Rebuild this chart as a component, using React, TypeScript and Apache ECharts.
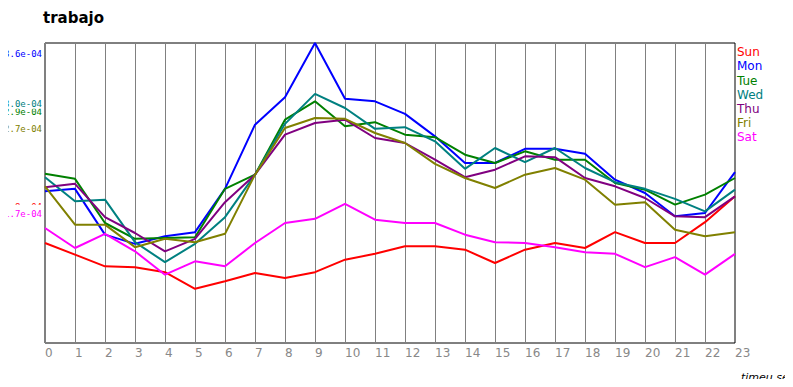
import React, { useEffect, useRef } from "react";
import * as echarts from "echarts";

const HOURS = ["0","1","2","3","4","5","6","7","8","9","10","11","12","13","14","15","16","17","18","19","20","21","22","23"];
const DAYS = ["Sun", "Mon", "Tue", "Wed", "Thu", "Fri", "Sat"];
const COLORS = ["#ff0000", "#0000ff", "#008000", "#008080", "#800080", "#808000", "#ff00ff"];
const UNIT = 1e-4;

const sun = [1.20,1.06,0.92,0.91,0.85,0.65,0.74,0.84,0.78,0.85,1.00,1.07,1.16,1.16,1.12,0.96,1.12,1.20,1.14,1.33,1.20,1.20,1.45,1.76];
const mon = [1.82,1.85,1.30,1.19,1.28,1.33,1.85,2.62,2.95,3.60,2.93,2.90,2.75,2.48,2.16,2.16,2.33,2.33,2.27,1.96,1.80,1.52,1.56,2.05];
const tue = [2.03,1.97,1.44,1.25,1.26,1.27,1.85,2.02,2.68,2.90,2.60,2.65,2.50,2.47,2.26,2.16,2.30,2.20,2.20,1.92,1.84,1.66,1.78,1.98];
const wed = [1.99,1.70,1.72,1.21,0.97,1.19,1.51,2.02,2.63,2.99,2.82,2.57,2.59,2.42,2.09,2.34,2.17,2.34,2.10,1.93,1.85,1.73,1.58,1.84];
const thu = [1.87,1.91,1.51,1.32,1.10,1.25,1.69,2.02,2.50,2.64,2.68,2.46,2.40,2.20,1.99,2.08,2.24,2.23,1.98,1.88,1.74,1.52,1.51,1.76];
const fri = [1.88,1.42,1.42,1.15,1.25,1.21,1.31,2.02,2.58,2.70,2.69,2.52,2.40,2.15,1.98,1.86,2.02,2.10,1.96,1.66,1.69,1.36,1.28,1.33];
const sat = [1.38,1.14,1.31,1.10,0.82,0.98,0.92,1.20,1.44,1.49,1.67,1.48,1.44,1.44,1.30,1.21,1.20,1.15,1.09,1.07,0.91,1.03,0.82,1.07];

const SERIES_VALUES = [sun, mon, tue, wed, thu, fri, sat];

function fmtExp(v: number): string {
  const s = Number(v).toExponential(1);
  return s.replace(/e([+-])(\d)$/, (_m, sign, d) => "e" + sign + "0" + d);
}

export default function App() {
  const ref = useRef<HTMLDivElement>(null);
  useEffect(() => {
    if (!ref.current) return;
    const chart = echarts.init(ref.current, null, { renderer: "svg" });
    const seriesVals = SERIES_VALUES.map((arr) => arr.map((v) => v * UNIT));
    const option: any = {
      animation: false,
      backgroundColor: "#fff",
      title: {
        text: "trabajo",
        left: 43,
        top: 10,
        padding: 0,
        textStyle: { fontFamily: "DejaVu Sans", fontSize: 15, fontWeight: "bold", color: "#000" },
      },
      legend: {
        orient: "vertical",
        left: 732,
        top: 45,
        padding: 0,
        itemWidth: 0,
        itemHeight: 0,
        itemGap: 0,
        icon: "rect",
        selectedMode: false,
        data: DAYS.map((d, i) => ({ name: d, textStyle: { color: COLORS[i] } })),
        textStyle: { fontFamily: "DejaVu Sans", fontSize: 12, lineHeight: 14.2 },
      },
      grid: {
        left: 45,
        right: 58,
        top: 43,
        bottom: 44,
        show: true,
        borderColor: "#000",
        borderWidth: 1,
        backgroundColor: "transparent",
      },
      xAxis: {
        type: "category",
        data: HOURS,
        boundaryGap: false,
        axisLine: { show: false },
        axisTick: { show: false },
        axisLabel: {
          interval: 0,
          color: "#888",
          fontSize: 12,
          fontFamily: "DejaVu Sans",
          align: "left",
          margin: 4,
        },
        splitLine: { show: true, interval: 0, lineStyle: { color: "#808080", width: 1 } },
      },
      yAxis: { type: "value", min: 0, max: "dataMax", show: false },
      series: DAYS.map((d, i) => ({
        name: d,
        type: "line",
        clip: false,
        data: seriesVals[i],
        symbol: "none",
        lineStyle: { color: COLORS[i], width: 2 },
        itemStyle: { color: COLORS[i] },
      })),
    };
    chart.setOption(option);

    // max-value labels at the left of the plot, positioned through the y-axis scale
    const maxLabels = DAYS.map((d, i) => {
      const maxVal = Math.max(...seriesVals[i]);
      const py = chart.convertToPixel({ yAxisIndex: 0 }, maxVal) as number;
      return {
        type: "text",
        z: 10 + i,
        style: {
          text: fmtExp(maxVal),
          x: 42,
          y: py + 15,
          align: "right",
          verticalAlign: "bottom",
          fill: COLORS[i],
          font: "9px 'DejaVu Sans Mono'",
          backgroundColor: "#fff",
          padding: [5, 0, 0, 0],
        },
      };
    });
    chart.setOption({
      graphic: [
        ...maxLabels,
        {
          type: "text",
          left: 741,
          top: 372,
          style: { text: "timeu.se", fontFamily: "DejaVu Sans", fontSize: 11, fontStyle: "italic", fill: "#000" },
        },
      ],
    });
    return () => chart.dispose();
  }, []);
  return <div ref={ref} style={{ width: 793, height: 387, margin: -8 }} />;
}
